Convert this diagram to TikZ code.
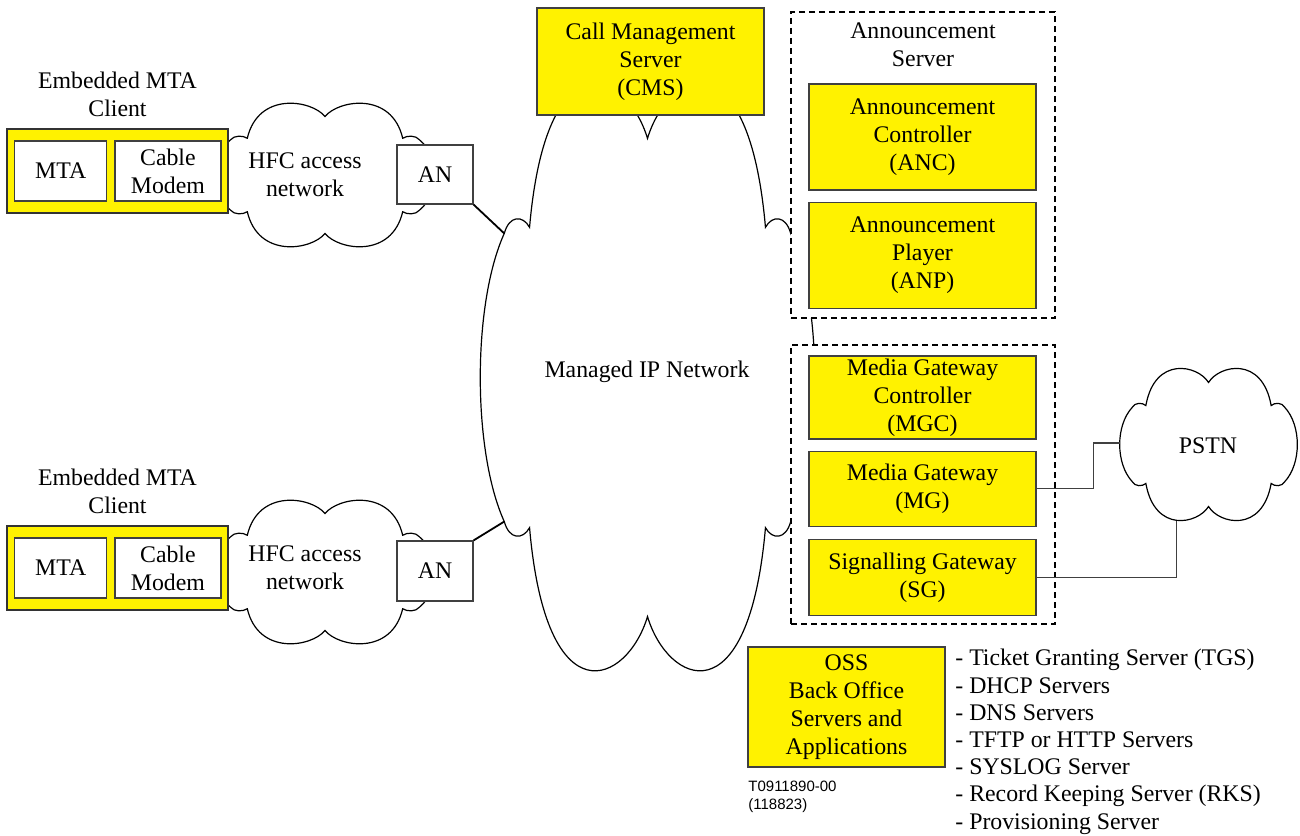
\documentclass[tikz,border=0pt]{standalone}
\usepackage{fontspec}
\setmainfont{Liberation Serif}
\newfontfamily\idfont{Liberation Sans}
\usepackage{tikz}
\usetikzlibrary{positioning,calc}
\tikzset{ybox/.style={draw=black!75, fill=yellow, line width=0.6pt, align=center, inner sep=0pt}}
\tikzset{wbox/.style={draw=black!75, fill=white, line width=0.6pt, align=center, inner sep=0pt}}
\tikzset{dbox/.style={draw, dash pattern=on 3pt off 2pt, fill=white, line width=0.75pt, inner sep=0pt}}
\tikzset{cloudline/.style={draw, fill=white, line width=0.6pt}}
\tikzset{lbl/.style={align=center, inner sep=0pt}}
\tikzset{link/.style={draw, line width=0.9pt}}
\tikzset{wire/.style={draw=black!75, line width=0.6pt}}
% cloud in a unit square: #1,#2 top left, #3 width, #4 height, #5 name
\newcommand{\netcloud}[5]{%
  \begin{scope}[shift={(#1,#2)}, xscale=#3, yscale=#4]
  \path[cloudline] (0.5,0.11)
    .. controls (0.44,0.0) and (0.2,-0.06) .. (0.15,0.255)
    .. controls (0.13,0.235) and (0.09,0.235) .. (0.075,0.265)
    .. controls (-0.02,0.38) and (-0.02,0.62) .. (0.075,0.735)
    .. controls (0.09,0.765) and (0.13,0.765) .. (0.15,0.745)
    .. controls (0.2,1.06) and (0.44,1.0) .. (0.5,0.89)
    .. controls (0.56,1.0) and (0.8,1.06) .. (0.85,0.745)
    .. controls (0.87,0.765) and (0.91,0.765) .. (0.925,0.735)
    .. controls (1.02,0.62) and (1.02,0.38) .. (0.925,0.265)
    .. controls (0.91,0.235) and (0.87,0.235) .. (0.85,0.255)
    .. controls (0.8,-0.06) and (0.56,0.0) .. (0.5,0.11) -- cycle;
  \coordinate (#5-nw) at (0.075,0.265);
  \coordinate (#5-sw) at (0.075,0.735);
  \coordinate (#5-w) at (0.004,0.49);
  \coordinate (#5-s) at (0.32,0.978);
  \end{scope}}

\begin{document}
\begin{tikzpicture}[x=0.5pt, y=-0.5pt, font=\fontsize{11.9}{14}\selectfont]
	\useasboundingbox (0,0) rectangle (1300,835);
	% clouds first, the boxes sit on them
	\netcloud{479}{71}{337}{613}{ipnet}
	\netcloud{214}{100}{222}{150}{hfcA}
	\netcloud{214}{497}{222}{150}{hfcB}
	\netcloud{1119}{365}{179}{159}{pstn}
	\node[lbl] (ipnetlbl) at (647,372) {Managed IP Network};
	\node[lbl] (hfcAlbl) at (305,175) {HFC access\\network};
	\node[lbl] (hfcBlbl) at (305,568) {HFC access\\network};
	\node[lbl] (pstnlbl) at (1208,446) {PSTN};

	% upper client
	\node[ybox, draw=black!80, line width=0.9pt, minimum width=110.5pt, minimum height=42pt] (emtaA) at (117.5,171) {};
	\node[wbox, right=4pt of emtaA.west, minimum width=46pt, minimum height=30pt] (mtaA) {MTA};
	\node[wbox, right=3.5pt of mtaA, minimum width=53pt, minimum height=30pt] (cmA) {Cable\\Modem};
	\node[lbl, above=5.5pt of emtaA] (clientA) {Embedded MTA\\Client};
	\node[wbox, minimum width=38pt, minimum height=29.5pt] (anA) at (435,174.5) {AN};

	% lower client
	\node[ybox, draw=black!80, line width=0.9pt, minimum width=110.5pt, minimum height=42pt] (emtaB) at (117.5,568) {};
	\node[wbox, right=4pt of emtaB.west, minimum width=46pt, minimum height=30pt] (mtaB) {MTA};
	\node[wbox, right=3.5pt of mtaB, minimum width=53pt, minimum height=30pt] (cmB) {Cable\\Modem};
	\node[lbl, above=5.5pt of emtaB] (clientB) {Embedded MTA\\Client};
	\node[wbox, minimum width=38pt, minimum height=30pt] (anB) at (435,571) {AN};

	\draw[link] (anA.south east) -- (ipnet-nw);
	\draw[link] (anB.north east) -- (ipnet-sw);

	\node[ybox, minimum width=113.5pt, minimum height=53.5pt] (cms) at (650.5,61.5) {Call Management\\Server\\(CMS)};

	% announcement server
	\node[dbox, minimum width=132pt, minimum height=153pt] (anserv) at (923,165) {};
	\node[lbl] (anservlbl) at (923,45) {Announcement\\Server};
	\node[ybox, minimum width=113.5pt, minimum height=53pt] (anc) at (922.5,137) {Announcement\\Controller\\(ANC)};
	\node[ybox, below=5.5pt of anc, minimum width=113.5pt, minimum height=53pt] (anp) {Announcement\\Player\\(ANP)};

	% gateways
	\node[dbox, minimum width=132pt, minimum height=139.5pt] (gwserv) at (923,484.5) {};
	\node[ybox, minimum width=113.5pt, minimum height=41.5pt] (mgc) at (922.5,397.5) {Media Gateway\\Controller\\(MGC)};
	\node[ybox, below=5.5pt of mgc, minimum width=113.5pt, minimum height=37.5pt] (mg) {Media Gateway\\(MG)};
	\node[ybox, below=6pt of mg, minimum width=113.5pt, minimum height=38pt] (sg) {Signalling Gateway\\(SG)};

	\draw[wire] (mg.east) -- ++(57,0) |- (pstn-w);
	\draw[wire] (sg.east) -| (pstn-s);

	% back office
	\node[ybox, minimum width=98.5pt, minimum height=60pt] (oss) at (846.5,707) {OSS\\Back Office\\Servers and\\Applications};
	\node[lbl, align=left, anchor=north west, font=\fontsize{11.9}{13.6}\selectfont] (osslist) at (955,649)
		{- Ticket Granting Server (TGS)\\- DHCP Servers\\- DNS Servers\\- TFTP or HTTP Servers\\- SYSLOG Server\\- Record Keeping Server (RKS)\\- Provisioning Server};
	\node[lbl, align=left, anchor=north west, font=\idfont\fontsize{7.5}{9}\selectfont] (figid) at (748,781)
		{T0911890-00\\(118823)};
\end{tikzpicture}
\end{document}
